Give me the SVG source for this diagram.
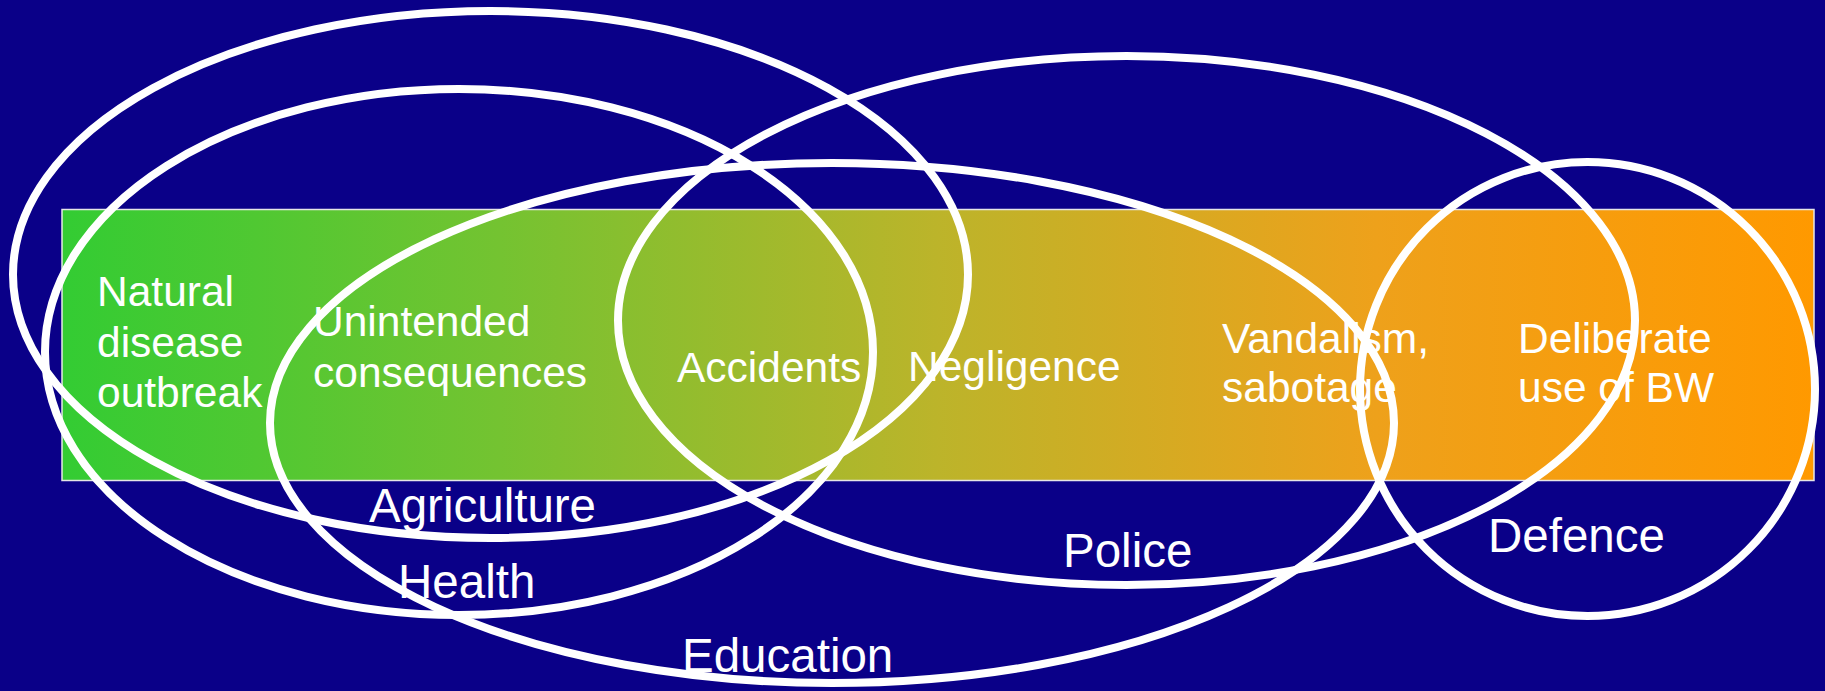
<svg xmlns="http://www.w3.org/2000/svg" width="1825" height="691" viewBox="0 0 1825 691">
  <defs>
    <linearGradient id="spectrum" x1="0" y1="0" x2="1" y2="0">
      <stop offset="0" stop-color="#33cc33"/>
      <stop offset="0.25" stop-color="#74c331"/>
      <stop offset="0.5" stop-color="#bcb42a"/>
      <stop offset="0.75" stop-color="#eea11b"/>
      <stop offset="1" stop-color="#ff9900"/>
    </linearGradient>
    <style>
      .ring { fill: none; stroke: #ffffff; stroke-width: 8; }
      .in { font-family: "Liberation Sans", Arial, sans-serif; font-size: 42.5px; fill: #ffffff; }
      .out { font-family: "Liberation Sans", Arial, sans-serif; font-size: 47.5px; fill: #ffffff; }
    </style>
  </defs>
  <rect x="0" y="0" width="1825" height="691" fill="#0a0088"/>

  <g id="spectrum-bar">
    <rect x="62" y="209.5" width="1752" height="271" fill="url(#spectrum)" stroke="#e6e6e6" stroke-width="1.5"/>
    <text class="in" x="97" y="306">Natural</text>
    <text class="in" x="97" y="356.5">disease</text>
    <text class="in" x="97" y="407">outbreak</text>
    <text class="in" x="313" y="336">Unintended</text>
    <text class="in" x="313" y="387">consequences</text>
    <text class="in" x="677" y="381.5">Accidents</text>
    <text class="in" x="908" y="381">Negligence</text>
    <text class="in" x="1222" y="352.5">Vandalism,</text>
    <text class="in" x="1222" y="402">sabotage</text>
    <text class="in" x="1518" y="352.5">Deliberate</text>
    <text class="in" x="1518" y="402">use of BW</text>
  </g>

  <g id="agriculture">
    <ellipse class="ring" cx="490.5" cy="274.5" rx="477.5" ry="263.5"/>
    <text class="out" x="369" y="522">Agriculture</text>
  </g>
  <g id="health">
    <ellipse class="ring" cx="459" cy="352" rx="414" ry="263"/>
    <text class="out" x="398" y="598">Health</text>
  </g>
  <g id="education">
    <ellipse class="ring" cx="832" cy="423" rx="562" ry="260"/>
    <text class="out" x="682" y="672">Education</text>
  </g>
  <g id="police">
    <ellipse class="ring" cx="1126.5" cy="320.5" rx="508.5" ry="264.5"/>
    <text class="out" x="1063" y="566.5">Police</text>
  </g>
  <g id="defence">
    <ellipse class="ring" cx="1587.5" cy="389" rx="227.5" ry="227"/>
    <text class="out" x="1488" y="552">Defence</text>
  </g>

  <g id="connectors"></g>
</svg>
